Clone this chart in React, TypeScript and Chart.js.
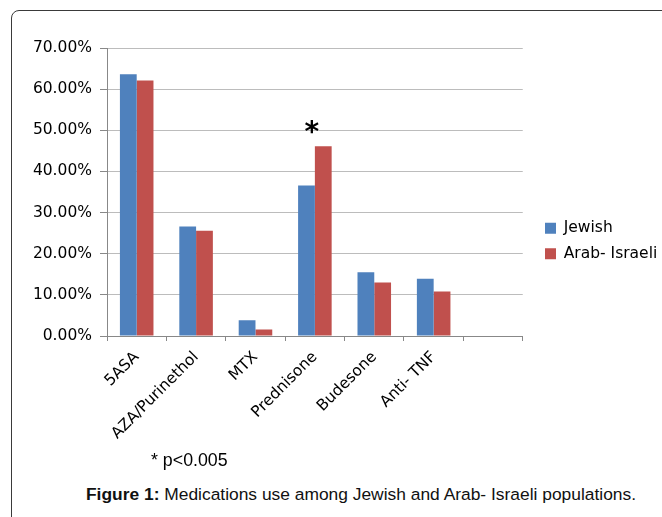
import { useEffect, useRef } from 'react';
import { Chart, registerables } from 'chart.js';
import type { Plugin } from 'chart.js';

Chart.register(...registerables);

// categories (the last slot is left empty in the original figure)
const categories = ['5ASA', 'AZA/Purinethol', 'MTX', 'Prednisone', 'Budesone', 'Anti- TNF', ''];
const jewish = [63.6, 26.6, 3.8, 36.6, 15.5, 13.9, null];
const arabIsraeli = [62.1, 25.6, 1.6, 46.1, 13.0, 10.8, null];
const seriesNames = ['Jewish', 'Arab- Israeli'];
const yTicks = [0, 10, 20, 30, 40, 50, 60, 70];

// significance marker above Prednisone
const markedCategory = 'Prednisone';
const markerText = '*';

const AXIS_FONT = 'DejaVu Sans, sans-serif';

const significanceMarker: Plugin<'bar'> = {
  id: 'significanceMarker',
  afterDatasetsDraw(chart) {
    const { ctx, scales } = chart;
    const idx = categories.indexOf(markedCategory);
    const x = scales.x.getPixelForValue(idx) - 3;
    const top = scales.y.getPixelForValue(Math.max(jewish[idx] ?? 0, arabIsraeli[idx] ?? 0));
    ctx.save();
    ctx.font = 'bold 28px ' + AXIS_FONT;
    ctx.fillStyle = '#000';
    ctx.textAlign = 'center';
    ctx.textBaseline = 'alphabetic';
    ctx.fillText(markerText, x, top - 5);
    ctx.restore();
  },
};

// Excel puts the legend a little right of the plot and centred on the frame
const legendNudge: Plugin<'bar'> = {
  id: 'legendNudge',
  afterLayout(chart) {
    const lg = chart.legend;
    if (!lg) return;
    const dx = 545 - (lg.left + 10);
    lg.left += dx;
    lg.right += dx;
    const dy = 241 - (lg.top + lg.bottom) / 2;
    lg.top += dy;
    lg.bottom += dy;
  },
};

function MedicationChart() {
  const canvasRef = useRef<HTMLCanvasElement>(null);

  useEffect(() => {
    if (!canvasRef.current) return;
    const chart = new Chart(canvasRef.current, {
      type: 'bar',
      data: {
        labels: categories,
        datasets: [
          {
            label: seriesNames[0],
            data: jewish,
            backgroundColor: '#4F81BD',
            borderColor: '#4F81BD',
            borderWidth: 0,
            barPercentage: 1,
            categoryPercentage: 0.565,
          },
          {
            label: seriesNames[1],
            data: arabIsraeli,
            backgroundColor: '#C0504D',
            borderColor: '#C0504D',
            borderWidth: 0,
            barPercentage: 1,
            categoryPercentage: 0.565,
          },
        ],
      },
      options: {
        responsive: false,
        animation: false,
        layout: { padding: { top: 48, left: 0, right: 7, bottom: 0 } },
        plugins: {
          legend: {
            position: 'right',
            labels: {
              boxWidth: 11,
              boxHeight: 11,
              padding: 10,
              color: '#000',
              font: { family: AXIS_FONT, size: 15.5 },
            },
          },
          tooltip: { enabled: false },
        },
        scales: {
          x: {
            afterFit: (s) => { s.height = 146; },
            grid: {
              offset: true,
              drawOnChartArea: false,
              drawTicks: true,
              tickLength: 5,
              color: '#888',
            },
            border: { color: '#888' },
            ticks: {
              minRotation: 45,
              maxRotation: 45,
              padding: 7,
              color: '#000',
              font: { family: AXIS_FONT, size: 15.5 },
            },
          },
          y: {
            min: 0,
            max: 70,
            afterFit: (s) => { s.width = 107; },
            afterBuildTicks: (s) => { s.ticks = yTicks.map(v => ({ value: v })); },
            grid: { color: '#bcbcbc', tickLength: 7, tickColor: '#888' },
            border: { color: '#888' },
            ticks: {
              padding: 8,
              color: '#000',
              font: { family: AXIS_FONT, size: 15.5 },
              callback: (v) => Number(v).toFixed(2) + '%',
            },
          },
        },
      },
      plugins: [significanceMarker, legendNudge],
    });
    return () => chart.destroy();
  }, []);

  return <canvas ref={canvasRef} width={662} height={482} style={{ position: 'absolute', left: 0, top: 0 }} />;
}

export default function App() {
  useEffect(() => {
    document.body.style.margin = '0';
  }, []);

  return (
    <div style={{ position: 'relative', width: 662, height: 517, overflow: 'hidden', background: '#fff' }}>
      <div
        style={{
          position: 'absolute', left: 11, top: 10, width: 720, height: 600,
          border: '1.5px solid #3a3a3a', borderRadius: 8, boxSizing: 'border-box',
        }}
      />
      <MedicationChart />
      <div style={{ position: 'absolute', left: 151, top: 450, fontFamily: 'Liberation Sans, Arial, sans-serif', fontSize: 17.8, color: '#000' }}>
        * p&lt;0.005
      </div>
      <div
        style={{
          position: 'absolute', left: 40, width: 642, top: 484, textAlign: 'center',
          fontFamily: 'Liberation Sans, Arial, sans-serif', fontSize: 17.4, color: '#111', whiteSpace: 'nowrap',
        }}
      >
        <b>Figure 1:</b> Medications use among Jewish and Arab- Israeli populations.
      </div>
    </div>
  );
}
